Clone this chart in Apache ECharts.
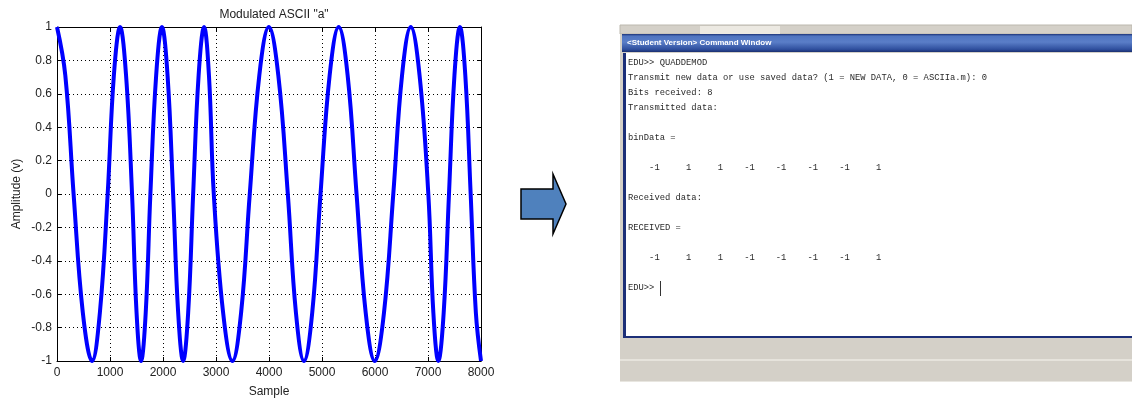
<!DOCTYPE html>
<html>
<head>
<meta charset="utf-8">
<script src="https://cdn.jsdelivr.net/npm/echarts@6/dist/echarts.min.js"></script>
<style>html,body{margin:0;padding:0;background:#fff;}#c{width:1132px;height:398px;}</style>
</head>
<body>
<div id="c"></div>
<script>
// Points (extrema, zero crossings and mid-slope points)
const sampleX = [0,157,313,487,661,809,956,1073,1190,1303,1416,1501,1586,1674,1762,1871,1980,2086,2191,2286,2380,2475,2569,2672,2775,2867,2958,3134,3310,3474,3637,3817,3997,4176,4355,4508,4660,4816,4972,5144,5315,5484,5652,5824,5995,6170,6345,6510,6675,6841,7006,7101,7195,7296,7396,7499,7602,7704,7805,7903,8000];
const amplitude = [1,0.71,0,-0.71,-1,-0.71,0,0.71,1,0.71,0,-0.71,-1,-0.71,0,0.71,1,0.71,0,-0.71,-1,-0.71,0,0.71,1,0.71,0,-0.71,-1,-0.71,0,0.71,1,0.71,0,-0.71,-1,-0.71,0,0.71,1,0.71,0,-0.71,-1,-0.71,0,0.71,1,0.71,0,-0.71,-1,-0.71,0,0.71,1,0.71,0,-0.71,-1];
const xTicks = [0, 1000, 2000, 3000, 4000, 5000, 6000, 7000, 8000];
const yTicks = [-1, -0.8, -0.6, -0.4, -0.2, 0, 0.2, 0.4, 0.6, 0.8, 1];
// Command window text lines
const consoleLines = [
  'EDU>> QUADDEMOD',
  'Transmit new data or use saved data? (1 = NEW DATA, 0 = ASCIIa.m): 0',
  'Bits received: 8',
  'Transmitted data:',
  '',
  'binData =',
  '',
  '    -1     1     1    -1    -1    -1    -1     1',
  '',
  'Received data:',
  '',
  'RECEIVED =',
  '',
  '    -1     1     1    -1    -1    -1    -1     1',
  '',
  'EDU>> '
];

const chart = echarts.init(document.getElementById('c'), null, {renderer: 'canvas'});
const seriesData = sampleX.map((x, i) => [x, amplitude[i]]);
const fontFam = '"Liberation Sans", Arial, sans-serif';

const graphics = [];
// Arrow
graphics.push({
  type: 'polygon',
  shape: {points: [[521,189],[553,189],[553,174],[566,204],[553,234],[553,219],[521,219]]},
  style: {fill: '#4f81bd', stroke: '#000', lineWidth: 1.5}
});
// Command window: tab strip
graphics.push({type: 'rect', shape: {x: 620, y: 25, width: 512, height: 9}, style: {fill: '#d4d0c8', stroke: '#bcb8ae', lineWidth: 1}});
graphics.push({type: 'rect', shape: {x: 700, y: 26, width: 80, height: 8}, style: {fill: '#ece9e2'}});
// Outer frame
graphics.push({type: 'rect', shape: {x: 620, y: 34, width: 512, height: 305}, style: {fill: '#d4d0c8'}});
// Title bar
graphics.push({
  type: 'rect', shape: {x: 622, y: 34, width: 510, height: 18},
  style: {fill: new echarts.graphic.LinearGradient(0, 0, 0, 1, [
    {offset: 0, color: '#1d3478'}, {offset: 0.12, color: '#4f74c0'}, {offset: 0.45, color: '#5a7ec8'},
    {offset: 0.85, color: '#2f4f9e'}, {offset: 1, color: '#1a2f70'}])}
});
graphics.push({
  type: 'text', x: 627, y: 43,
  style: {text: '<Student Version> Command Window', fill: '#ffffff', font: 'bold 8px ' + fontFam, textVerticalAlign: 'middle'}
});
// Content area border and white
graphics.push({type: 'rect', shape: {x: 623, y: 53, width: 509, height: 285}, style: {fill: '#1c2f78'}});
graphics.push({type: 'rect', shape: {x: 626, y: 53, width: 506, height: 283}, style: {fill: '#ffffff'}});
// Bottom gray area
graphics.push({type: 'rect', shape: {x: 620, y: 339, width: 512, height: 43}, style: {fill: '#d4d0c8'}});
graphics.push({type: 'rect', shape: {x: 620, y: 359, width: 512, height: 2}, style: {fill: '#e6e3dc'}});
graphics.push({type: 'rect', shape: {x: 620, y: 381, width: 512, height: 1}, style: {fill: '#e8e6e0'}});
// Console text
consoleLines.forEach((line, i) => {
  if (!line) return;
  graphics.push({
    type: 'text', x: 628, y: 63 + i * 15,
    style: {text: line, fill: '#2a2a2a', font: '8.8px "Liberation Mono", "DejaVu Sans Mono", monospace', textVerticalAlign: 'middle'}
  });
});
// Cursor
graphics.push({type: 'rect', shape: {x: 660, y: 281, width: 1, height: 15}, style: {fill: '#333'}});

const yFmt = v => String(Math.round(v * 10) / 10);
const xFmt = v => String(Math.round(v));

chart.setOption({
  animation: false,
  backgroundColor: '#ffffff',
  title: {
    text: 'Modulated ASCII "a"', left: 269, top: 4, textAlign: 'center',
    textStyle: {fontFamily: fontFam, fontSize: 12, fontWeight: 'normal', color: '#222'}
  },
  grid: {left: 57, right: 651, top: 27, bottom: 37, containLabel: false, outerBoundsMode: 'none'},
  xAxis: [{
    type: 'value', min: xTicks[0], max: xTicks[xTicks.length - 1], interval: 1000,
    name: 'Sample', nameLocation: 'middle', nameGap: 25,
    nameTextStyle: {fontFamily: fontFam, fontSize: 12, color: '#222'},
    axisLine: {show: true, onZero: false, lineStyle: {color: '#000', width: 1}},
    axisTick: {show: true, inside: true, length: 4, lineStyle: {color: '#000'}},
    axisLabel: {fontFamily: fontFam, fontSize: 12, color: '#222', margin: 6, formatter: xFmt},
    splitLine: {show: true, lineStyle: {color: '#000', width: 1, type: [1, 3]}}
  }, {
    type: 'value', position: 'top', min: xTicks[0], max: xTicks[xTicks.length - 1], interval: 1000,
    axisLine: {show: true, onZero: false, lineStyle: {color: '#000', width: 1}},
    axisTick: {show: true, inside: true, length: 4, lineStyle: {color: '#000'}},
    axisLabel: {show: false}, splitLine: {show: false}
  }],
  yAxis: [{
    type: 'value', min: yTicks[0], max: yTicks[yTicks.length - 1], interval: 0.2,
    name: 'Amplitude (v)', nameLocation: 'middle', nameGap: 34, nameRotate: 90,
    nameTextStyle: {fontFamily: fontFam, fontSize: 12, color: '#222'},
    axisLine: {show: true, onZero: false, lineStyle: {color: '#000', width: 1}},
    axisTick: {show: true, inside: true, length: 4, lineStyle: {color: '#000'}},
    axisLabel: {fontFamily: fontFam, fontSize: 12, color: '#222', margin: 5, formatter: yFmt},
    splitLine: {show: true, lineStyle: {color: '#000', width: 1, type: [1, 3]}}
  }, {
    type: 'value', position: 'right', min: yTicks[0], max: yTicks[yTicks.length - 1], interval: 0.2,
    axisLine: {show: true, onZero: false, lineStyle: {color: '#000', width: 1}},
    axisTick: {show: true, inside: true, length: 4, lineStyle: {color: '#000'}},
    axisLabel: {show: false}, splitLine: {show: false}
  }],
  series: [{
    type: 'line', xAxisIndex: 0, yAxisIndex: 0,
    data: seriesData, smooth: 0.4, showSymbol: false, symbol: 'none',
    lineStyle: {color: '#0000ff', width: 4}, clip: true
  }],
  graphic: graphics
});
</script>
</body>
</html>
